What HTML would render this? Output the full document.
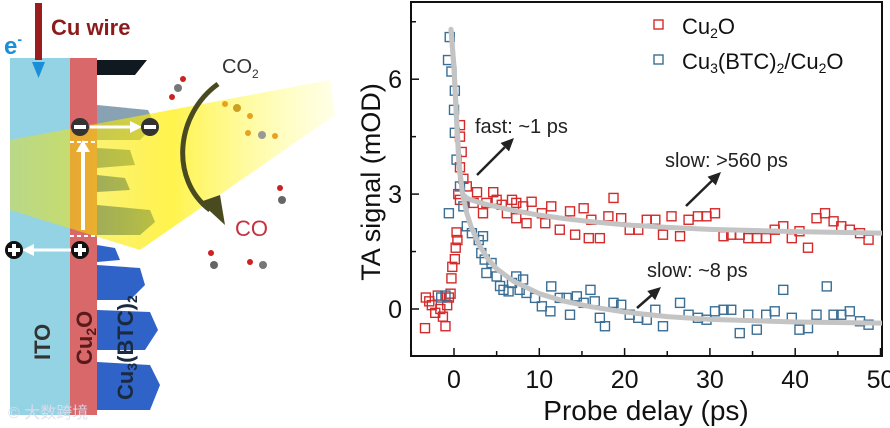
<!DOCTYPE html>
<html><head><meta charset="utf-8"><style>
html,body{margin:0;padding:0;background:#fff;}
svg{display:block;font-family:"Liberation Sans","Noto Sans CJK SC",sans-serif;}
</style></head><body>
<svg id="root" width="890" height="428" viewBox="0 0 890 428" xmlns="http://www.w3.org/2000/svg">
<defs>
<linearGradient id="beam" x1="1" y1="0" x2="0" y2="0">
<stop offset="0" stop-color="#ffff60" stop-opacity="0.15"/>
<stop offset="0.5" stop-color="#ffee00" stop-opacity="0.7"/>
<stop offset="1" stop-color="#f0e000" stop-opacity="0.4"/>
</linearGradient>
</defs>
<g>
<rect x="10" y="58" width="60" height="357" fill="#94d3e3"/>
<rect x="70" y="58" width="27" height="357" fill="#d8686a"/>
<polygon points="97,60 147,60 135,75 97,75" fill="#101820"/>
<g fill="#2f63c8">
<polygon points="97,105 148,110 155,125 140,140 97,140" fill="#6a8aa0" opacity="0.8"/>
<polygon points="97,148 130,150 135,165 97,168" fill="#5a80b0"/>
<polygon points="97,175 125,178 130,190 97,192"/>
<polygon points="97,205 150,210 155,222 140,235 97,235"/>
<polygon points="97,245 115,248 120,260 97,262"/>
<polygon points="97,265 140,268 145,285 130,300 97,300"/>
<polygon points="97,310 150,312 158,330 145,350 97,350"/>
<polygon points="97,362 150,365 160,385 150,410 97,410"/>
</g>
<polygon points="10,140 330,80 335,115 140,250 10,210" fill="url(#beam)"/>
<rect x="35" y="3" width="7" height="57" fill="#9b1c1c"/>
<polygon points="32,62 45,62 38.5,78" fill="#1a8fd8"/>
<text x="4" y="54" font-size="24" font-weight="bold" fill="#1a8fd8">e<tspan font-size="14" dy="-10">-</tspan></text>
<text x="51" y="35" font-size="22" font-weight="bold" fill="#8b1c1c">Cu wire</text>
<line x1="83" y1="230" x2="83" y2="150" stroke="#fff" stroke-width="4"/>
<polygon points="76,152 90,152 83,140" fill="#fff"/>
<line x1="70" y1="142" x2="97" y2="142" stroke="#fff" stroke-width="2" stroke-dasharray="4,3"/>
<line x1="70" y1="236" x2="97" y2="236" stroke="#fff" stroke-width="2" stroke-dasharray="4,3"/>
<line x1="90" y1="127" x2="135" y2="127" stroke="#fff" stroke-width="3"/>
<polygon points="130,121 142,127 130,133" fill="#fff"/>
<line x1="75" y1="250" x2="30" y2="250" stroke="#fff" stroke-width="3"/>
<polygon points="34,244 22,250 34,256" fill="#fff"/>
<g>
<circle cx="80" cy="127" r="9" fill="#333"/><rect x="74" y="125" width="12" height="4" fill="#fff"/>
<circle cx="150" cy="127" r="9" fill="#333"/><rect x="144" y="125" width="12" height="4" fill="#fff"/>
<circle cx="80" cy="250" r="9" fill="#111"/><rect x="74" y="248" width="12" height="4" fill="#fff"/><rect x="78" y="244" width="4" height="12" fill="#fff"/>
<circle cx="14" cy="250" r="9" fill="#111"/><rect x="8" y="248" width="12" height="4" fill="#fff"/><rect x="12" y="244" width="4" height="12" fill="#fff"/>
</g>
<path d="M218,84 C175,115 170,180 210,210" fill="none" stroke="#4a4a20" stroke-width="5"/>
<polygon points="200,202 225,225 220,195" fill="#4a4a20"/>
<text x="222" y="73" font-size="20" fill="#333">CO<tspan font-size="12" dy="5">2</tspan></text>
<text x="235" y="236" font-size="22" fill="#c83040">CO</text>
<g>
<circle cx="178" cy="88" r="4" fill="#777"/><circle cx="172" cy="97" r="3" fill="#c22"/><circle cx="183" cy="79" r="3" fill="#c22"/>
<circle cx="237" cy="108" r="4" fill="#cca020"/><circle cx="225" cy="104" r="3" fill="#e8a020"/><circle cx="250" cy="116" r="3" fill="#e8a020"/>
<circle cx="262" cy="135" r="4" fill="#999"/><circle cx="248" cy="133" r="3" fill="#e8a020"/><circle cx="275" cy="136" r="3" fill="#e8a020"/>
<circle cx="282" cy="200" r="4" fill="#666"/><circle cx="280" cy="188" r="3" fill="#c22"/>
<circle cx="214" cy="265" r="4" fill="#666"/><circle cx="211" cy="253" r="3" fill="#c22"/>
<circle cx="263" cy="265" r="4" fill="#777"/><circle cx="250" cy="262" r="3" fill="#c22"/>
</g>
<text transform="translate(50,360) rotate(-90)" font-size="22" font-weight="bold" fill="#333">ITO</text>
<text transform="translate(92,365) rotate(-90)" font-size="22" font-weight="bold" fill="#5a1a1a">Cu<tspan font-size="14" dy="4">2</tspan><tspan dy="-4">O</tspan></text>
<text transform="translate(133,400) rotate(-90)" font-size="22" font-weight="bold" fill="#1a2a40">Cu<tspan font-size="14" dy="4">3</tspan><tspan dy="-4">(BTC)</tspan><tspan font-size="14" dy="4">2</tspan></text>
<text x="8" y="418" font-size="16" fill="#dde" opacity="0.9">© 大数跨境</text>
</g>

<g id="chart"></g>
</svg>
<script>
const redT=[-3.4,-3.3,-2.9,-2.6,-2.2,-1.9,-1.6,-1.3,-1.0,-0.8,-0.6,-0.4,-0.3,-0.2,0.1,0.2,0.3,0.4,0.7,0.7,0.9,0.7,1.1,0.5,0.7,1.5,2.7,4.6,2.3,3.4,3.8,5.0,5.6,6.8,7.3,8.1,9.1,8.5,7.3,6.2,10.7,10.3,11.4,12.4,13.6,14.2,15.2,15.8,16.1,17.1,18.1,18.7,19.6,20.6,21.6,22.6,23.6,24.5,25.5,26.5,27.5,28.6,29.6,30.6,31.6,32.5,33.5,34.5,35.5,36.6,37.6,38.6,39.6,40.5,41.5,42.5,43.5,44.5,45.4,46.4,47.6,48.6];
const redY=[-0.5,0.3,0.2,0.1,-0.1,0.35,0.0,-0.2,-0.45,0.1,0.3,0.4,0.8,1.1,1.3,1.6,2.0,1.8,4.8,4.5,4.1,3.7,3.4,3.0,2.85,3.2,3.05,3.05,2.77,2.5,2.77,2.85,2.72,2.85,2.77,2.68,2.8,2.24,2.37,2.5,2.24,2.5,2.68,2.07,2.55,1.94,2.63,1.85,2.33,1.85,2.42,2.9,2.37,2.07,2.07,2.33,2.33,1.94,2.42,1.9,2.33,2.42,2.42,2.5,1.9,1.94,1.94,1.85,1.85,1.85,2.07,2.16,1.85,2.03,1.6,2.37,2.5,2.29,2.16,2.07,1.98,1.81];
const blueT=[-1.5,-1.0,-0.5,-0.7,-0.3,0.1,0.0,0.1,-0.6,0.3,0.7,1.1,1.5,2.1,2.9,3.4,3.2,3.6,3.8,4.4,5.0,5.4,5.8,6.4,6.8,7.3,8.1,7.7,8.5,9.5,10.3,11.3,11.4,12.4,13.2,13.6,14.4,15.2,16.0,16.5,17.1,17.7,18.7,19.6,20.6,21.6,22.6,23.6,24.5,26.5,27.5,28.6,29.6,30.6,31.6,32.5,33.5,34.5,35.5,36.6,37.6,38.6,39.6,40.5,41.5,42.5,43.7,44.5,45.4,46.4,47.6,48.6];
const blueY=[0.3,0.35,7.1,6.5,6.2,5.7,5.2,4.6,2.5,3.9,3.2,2.68,2.16,1.98,1.8,1.9,1.46,1.29,0.94,1.2,0.85,0.6,0.5,0.46,0.68,0.85,0.77,0.5,0.42,0.29,0.07,-0.06,0.59,0.29,0.29,-0.15,0.33,0.16,0.5,0.2,-0.23,-0.45,0.16,0.11,-0.15,-0.23,-0.28,-0.02,-0.45,0.16,-0.15,-0.23,-0.28,-0.06,-0.02,-0.02,-0.63,-0.15,-0.54,-0.15,-0.06,0.5,-0.23,-0.54,-0.5,-0.15,0.59,-0.15,-0.15,-0.06,-0.32,-0.41];
const fitT=[-0.35,0,0.3,0.6,1,1.5,2,3,4,5,7,10,13,16,20,25,30,40,50.5];
const redFit=[7.3,6.3,5.0,3.8,3.0,2.9,2.85,2.78,2.72,2.67,2.57,2.45,2.36,2.28,2.2,2.13,2.08,2.02,1.98];
const blueFit=[7.3,6.3,4.9,3.7,3.0,2.5,2.15,1.65,1.3,1.05,0.72,0.4,0.2,0.06,-0.08,-0.2,-0.27,-0.34,-0.37];
const xTicks=[0,10,20,30,40,50];
const yTicks=[0,3,6];

const NS='http://www.w3.org/2000/svg';
const g=document.getElementById('chart');
const L=411,R=882,T=2,B=356;
const xs=v=>454+(v-0)*8.53;
const ys=v=>309-v*38.3;
function el(tag,attrs,parent){const e=document.createElementNS(NS,tag);for(const k in attrs)e.setAttribute(k,attrs[k]);(parent||g).appendChild(e);return e;}

const clip=el('clipPath',{id:'pc'});
el('rect',{x:L,y:T,width:R-L,height:B-T},clip);

const frame=el('rect',{x:L,y:T,width:R-L,height:B-T,fill:'none',stroke:'#111','stroke-width':2});



for(let v=-5;v<=50;v+=5){
  const big=v%10===0;
  const t=el('line',{x1:xs(v),x2:xs(v),y1:B,y2:B-(big?8:5),stroke:'#111','stroke-width':1.5});
  
  
}
xTicks.forEach(v=>{
  const t=el('text',{x:xs(v),y:B+32,'font-size':25,'text-anchor':'middle',fill:'#111'});
  t.textContent=String(v);
  
  
});
for(let v=0;v<=7.5;v+=1.5){
  const big=Math.abs(v%3)<1e-6;
  const t=el('line',{x1:L,x2:L+(big?8:5),y1:ys(v),y2:ys(v),stroke:'#111','stroke-width':1.5});
  
  
}
yTicks.forEach(v=>{
  const t=el('text',{x:L-9,y:ys(v)+9,'font-size':25,'text-anchor':'end',fill:'#111'});
  t.textContent=String(v);
  
  
});
const xt=el('text',{x:646,y:420,'font-size':28,'text-anchor':'middle',fill:'#111'});
xt.textContent='Probe delay (ps)';


const yt=el('text',{transform:'translate(380,182) rotate(-90)','font-size':27,'text-anchor':'middle',fill:'#111'});
yt.textContent='TA signal (mOD)';



const pts=el('g',{'clip-path':'url(#pc)'});
function squares(T_,Y_,color,name){
  T_.forEach((t,i)=>{
    const s=el('rect',{x:xs(t)-4.5,y:ys(Y_[i])-4.5,width:9,height:9,fill:'none',stroke:color,'stroke-width':1.4},pts);
    
    
  });
}
squares(redT,redY,'#d42a2a','cu2o-point');
squares(blueT,blueY,'#3a6e94','mof-point');
function fit(arr,name){
  const p=el('polyline',{points:fitT.map((t,i)=>xs(t)+','+ys(arr[i])).join(' '),fill:'none',stroke:'#c4c4c4','stroke-width':5,'stroke-linejoin':'round','stroke-linecap':'round'},pts);
  
  
}
fit(redFit,'cu2o-fit-line');
fit(blueFit,'mof-fit-line');

function legend(y,color,html,name){
  const s=el('rect',{x:654,y:y-5,width:9,height:9,fill:'none',stroke:color,'stroke-width':1.4});
  
  
  const t=el('text',{x:682,y:y+9,'font-size':22,fill:'#111'});
  t.innerHTML=html;
  
  
}
legend(25,'#d42a2a','Cu<tspan font-size="14" dy="4">2</tspan><tspan dy="-4">O</tspan>','legend-cu2o');
legend(60,'#3a6e94','Cu<tspan font-size="14" dy="4">3</tspan><tspan dy="-4">(BTC)</tspan><tspan font-size="14" dy="4">2</tspan><tspan dy="-4">/Cu</tspan><tspan font-size="14" dy="4">2</tspan><tspan dy="-4">O</tspan>','legend-mof');

function annot(x,y,txt,ax1,ay1,ax2,ay2,name){
  const t=el('text',{x:x,y:y,'font-size':20,fill:'#222'});
  t.textContent=txt;
  
  
  const a=el('line',{x1:ax1,y1:ay1,x2:ax2-(ax2-ax1)*0.25,y2:ay2-(ay2-ay1)*0.25,stroke:'#222','stroke-width':2.5});
  
  
  const dx=ax2-ax1,dy=ay2-ay1,len=Math.hypot(dx,dy),ux=dx/len,uy=dy/len;
  const bx=ax2-ux*13,by=ay2-uy*13;
  const h=el('polygon',{points:`${ax2},${ay2} ${bx-uy*6},${by+ux*6} ${bx+uy*6},${by-ux*6}`,fill:'#222'});
  
  
}
annot(475,133,'fast: ~1 ps',477,175,514,138,'annotation-fast');
annot(665,167,'slow: >560 ps',686,206,721,172,'annotation-slow-560');
annot(647,277,'slow: ~8 ps',637,308,661,287,'annotation-slow-8');
</script>
</body></html>
